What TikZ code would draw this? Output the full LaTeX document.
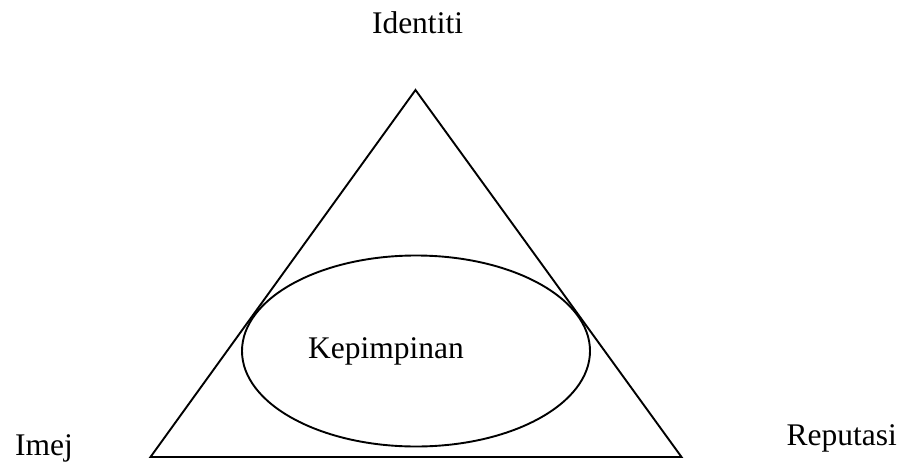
\documentclass[tikz,border=0pt]{standalone}
\usepackage{fontspec}
\setmainfont{Liberation Serif}
\usetikzlibrary{shapes.geometric, positioning, calc}

\begin{document}
\begin{tikzpicture}[x=1pt, y=-1pt,
    lbl/.style={inner sep=0pt, font=\fontsize{31.5}{38}\selectfont},
    edge/.style={draw, line width=1.9pt, line join=miter}
]
    \useasboundingbox (0,0) rectangle (901,463);
    % triangle corners
    \coordinate (apex) at (415.5,90);
    \coordinate (left) at (150.5,457);
    \coordinate (right) at (681.5,457);
    \draw[edge] (apex) -- (right) -- (left) -- cycle;
    % oval in the lower part
    \node[ellipse, edge, inner sep=0pt, minimum width=348, minimum height=191] (oval) at (416,351) {};
    \node[lbl, anchor=base west] (lead) at (308,358) {Kepimpinan};
    \node[lbl, anchor=base] (ident) at (417.5,33) {Identiti};
    \node[lbl, anchor=base west] (image) at (15,455) {Imej};
    \node[lbl, anchor=base west] (repute) at (786.5,445) {Reputasi};
\end{tikzpicture}
\end{document}
